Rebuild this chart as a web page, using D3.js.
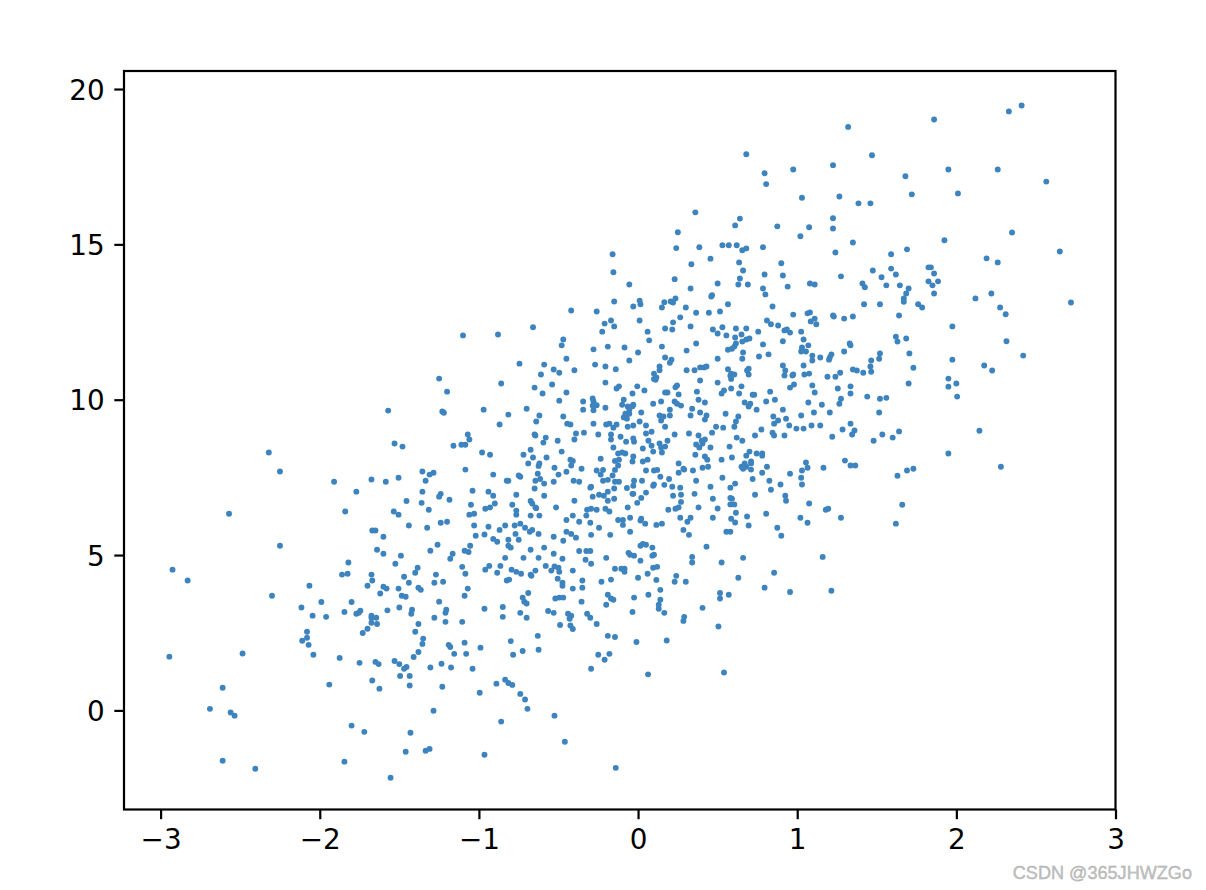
<!DOCTYPE html>
<html>
<head>
<meta charset="utf-8">
<script src="https://cdn.jsdelivr.net/npm/d3@7"></script>
<style>
html,body{margin:0;padding:0;background:#fff;}
svg{display:block;}
</style>
</head>
<body>
<svg id="chart" width="1206" height="890"></svg>
<script>
const xTicks = [-3,-2,-1,0,1,2,3];
const yTicks = [0,5,10,15,20];
const xDomain = [-3.23,3.0];
const yDomain = [-3.19,20.58];
const watermark = "CSDN @365JHWZGo";
const scatterValues = [
[-2.32,8.30],[-2.25,7.69],[-1.91,7.36],[-1.675,7.43],[-1.77,7.04],[-2.57,6.33],[-1.84,6.40],[-1.67,5.79],[-1.65,5.79],[-1.60,5.59],[-2.25,5.30],[-1.64,5.17],[-1.60,5.04],[-1.82,4.76],[-2.925,4.53],[-1.86,4.37],[-1.825,4.40],[-2.83,4.18],[-1.675,4.37],[-1.67,4.18],[-2.065,4.01],[-1.70,4.01],[-1.60,3.98],[-1.62,3.76],[-2.30,3.69],[-1.99,3.49],[-1.80,3.49],
[-2.115,3.31],[-2.045,3.05],[-1.96,3.01],[-1.845,3.17],[-1.77,3.11],[-1.755,3.14],[-1.745,3.21],[-1.675,3.05],[-1.675,2.98],[-1.645,2.98],[-1.675,2.82],[-1.64,2.78],[-1.70,2.63],[-1.73,2.49],[-2.08,2.53],[-2.08,2.34],[-2.11,2.24],[-2.07,2.11],[-2.04,1.79],[-1.875,1.69],[-1.75,1.53],[-1.65,1.56],[-1.63,1.49],[-2.945,1.73],[-2.485,1.83],[-2.61,0.73],[-1.94,0.83],[-1.67,0.96],[-1.625,0.70],[-2.69,0.05],[-2.56,-0.07],[-2.535,-0.17],[-1.80,-0.49],[-1.72,-0.69],[-2.61,-1.62],[-2.405,-1.88],[-1.845,-1.65],
[-1.10,12.07],[-0.88,12.10],[-0.66,12.33],[-0.47,11.94],[-0.48,11.75],[-0.745,11.16],[-0.59,11.13],[-0.53,10.97],[-0.495,10.87],[-0.61,10.81],[-1.25,10.68],[-0.86,10.52],[-0.54,10.49],[-0.65,10.39],[-0.60,10.20],[-1.20,10.26],[-0.495,9.97],[-1.57,9.65],[-1.23,9.62],[-1.22,9.58],[-0.97,9.68],[-0.70,9.71],[-0.815,9.52],[-0.62,9.49],[-0.47,9.46],[-0.64,9.30],[-0.87,9.20],[-0.65,8.88],[-0.645,8.85],[-0.58,8.78],[-0.505,8.68],[-0.595,8.62],[-1.07,8.88],[-1.06,8.72],[-1.16,8.52],[-1.11,8.55],[-1.085,8.55],[-1.53,8.59],[-1.48,8.49],[-0.48,8.33],[-0.675,8.39],[-0.98,8.30],[-0.93,8.23],[-0.72,8.23],[-0.66,8.14],[-0.575,8.14],[-0.69,7.95],[-0.62,7.95],[-0.625,7.87],[-0.525,7.81],[-1.085,7.75],
[-1.355,7.69],[-1.285,7.65],[-1.31,7.59],[-0.91,7.59],[-0.75,7.56],[-0.74,7.52],[-0.63,7.62],[-0.615,7.45],[-0.645,7.39],[-0.59,7.30],[-0.50,7.59],[-0.53,7.36],[-1.585,7.36],[-1.505,7.49],[-1.335,7.39],[-0.825,7.39],[-0.815,7.39],[-0.65,7.14],[-1.355,7.04],[-1.04,7.07],[-0.94,7.04],[-0.91,6.91],[-0.765,6.94],[-0.59,6.91],[-1.24,6.97],[-1.25,6.88],[-1.185,6.78],[-1.455,6.74],[-1.36,6.68],[-1.05,6.62],[-0.90,6.66],[-0.93,6.53],[-0.96,6.49],[-0.79,6.62],[-0.675,6.74],[-0.665,6.66],[-0.645,6.53],[-0.64,6.51],[-0.515,6.53],[-1.315,6.46],[-1.535,6.40],[-1.505,6.30],[-1.06,6.30],[-1.03,6.33],[-0.765,6.43],[-0.765,6.30],[-0.675,6.27],[-0.62,6.27],[-1.44,5.95],[-1.325,5.88],[-1.24,6.04],[-1.20,6.07],[-1.03,5.95],[-0.94,5.91],[-0.835,5.95],[-0.775,5.95],[-0.74,6.01],[-0.71,5.88],[-0.68,5.75],[-0.665,5.81],[-0.87,5.81],[-0.77,5.68],[-0.625,5.68],[-1.02,5.62],[-0.965,5.66],[-0.53,5.59],[-0.91,5.52],[-0.885,5.43],[-0.815,5.49],[-0.75,5.49],[-0.47,5.46],[-1.26,5.33],[-1.055,5.30],[-0.815,5.30],[-0.80,5.24],[-1.305,5.14],[-1.09,5.14],[-1.065,5.10],[-0.675,5.17],[-0.59,5.24],[-0.53,5.04],[-1.49,4.98],[-1.165,5.04],[-1.18,4.88],[-0.835,4.91],[-0.72,4.91],[-0.625,4.91],[-0.475,4.88],[-1.525,4.72],[-1.105,4.62],[-0.935,4.65],[-0.96,4.53],[-0.865,4.65],[-0.795,4.53],[-0.765,4.46],[-0.735,4.40],[-0.885,4.43],[-0.645,4.50],[-0.58,4.65],[-0.545,4.50],[-0.525,4.63],[-0.50,4.59],[-0.495,4.46],[-0.675,4.37],[-0.67,4.33],[-1.385,4.59],[-1.40,4.43],[-1.47,4.30],[-1.27,4.37],[-1.085,4.40],[-1.44,4.11],[-1.28,4.11],[-1.225,4.14],[-0.505,4.24],[-0.825,4.18],[-0.81,4.21],[-0.475,4.11],[-0.475,4.01],[-1.58,3.92],[-1.505,3.92],[-1.38,3.95],[-1.365,3.88],[-1.07,3.92],[-0.69,3.78],[-1.09,3.69],[-1.485,3.69],[-1.46,3.66],[-0.725,3.63],[-0.715,3.50],[-0.70,3.44],[-0.52,3.60],[-0.495,3.63],[-0.47,3.63],[-1.25,3.50],[-1.575,3.22],[-1.50,3.31],[-1.42,3.24],[-1.425,3.11],[-1.205,3.24],[-1.21,3.14],[-0.965,3.27],[-0.85,3.33],[-0.85,3.01],[-0.74,3.14],[-0.70,2.98],[-0.565,3.20],[-0.53,3.14],[-1.28,2.98],[-1.38,2.78],[-1.21,2.85],[-1.105,2.85],[-0.49,2.75],[-1.40,2.53],[-1.35,2.31],[-0.63,2.40],[-0.80,2.23],
[-1.355,2.14],[-1.19,2.11],[-1.18,2.04],[-1.09,2.18],[-0.99,2.02],[-1.38,1.88],[-1.41,1.72],[-1.155,1.82],[-1.08,1.82],[-0.785,1.79],[-0.725,1.91],[-0.625,1.95],[-1.53,1.59],[-1.50,1.49],[-1.47,1.34],[-1.455,1.40],[-1.305,1.38],[-1.235,1.50],[-1.175,1.38],[-1.04,1.34],[-1.495,1.11],[-1.435,1.11],[-1.435,0.80],[-1.23,0.76],[-0.89,0.86],[-0.835,0.99],[-0.815,0.88],[-0.79,0.82],[-0.995,0.57],[-0.74,0.53],[-0.71,0.35],[-0.695,0.05],[-1.285,-0.01],[-0.525,-0.17],[-0.86,-0.36],[-1.43,-0.72],[-0.46,-1.01],[-1.46,-1.33],[-1.335,-1.30],[-1.31,-1.24],[-0.965,-1.43],[-0.14,-1.85],[-1.555,-2.17],[-0.295,1.34],[-0.25,1.79],[-0.21,1.63],[-0.18,1.82],[-0.01,2.20],[0.063,1.16],[0.54,1.22],
[0.36,16.03],[0.64,15.83],[0.61,15.61],[0.25,15.39],[0.24,14.88],[0.385,14.91],[0.53,14.97],[0.57,14.97],[0.62,14.97],[0.655,14.81],[-0.16,14.68],[0.455,14.54],[0.335,14.36],[0.635,14.42],[-0.155,14.10],[0.66,14.16],[0.23,13.88],[0.64,13.90],[-0.055,13.71],[0.50,13.74],[0.63,13.71],[0.33,13.58],[0.46,13.32],[0.465,13.36],[-0.15,13.16],[0.01,13.19],[0.015,13.07],[-0.03,13.00],[0.165,13.14],[0.205,13.16],[0.22,13.13],[0.235,13.26],[0.15,12.97],[0.30,12.97],[0.565,13.07],[-0.42,12.87],[-0.26,12.84],[0.365,12.80],[0.445,12.80],[0.515,12.84],[0.265,12.65],[-0.17,12.55],[0.01,12.55],[-0.21,12.45],[0.22,12.49],[-0.15,12.36],[0.17,12.29],[0.215,12.26],[0.33,12.36],[0.47,12.26],[0.53,12.33],[0.615,12.29],[-0.225,12.19],[0.06,12.19],[0.50,12.13],[0.555,12.07],[0.65,12.10],[0.61,12.00],[0.07,11.91],[0.365,11.81],[0.615,11.81],[0.655,11.87],[0.15,11.71],[-0.19,11.71],[-0.085,11.68],[-0.28,11.62],[0.305,11.58],[0.565,11.61],[0.59,11.64],[0.605,11.71],[0.00,11.52],[0.66,11.52],[0.17,11.36],[0.21,11.29],[0.20,11.19],[-0.45,11.32],[-0.055,11.26],[0.50,11.32],[0.655,11.32],[-0.27,11.13],[-0.205,11.07],[-0.14,10.98],[0.135,11.07],[0.135,10.95],[-0.40,10.95],[0.305,10.95],[0.355,10.95],[0.39,11.04],[0.415,11.04],[0.43,11.07],[0.565,10.98],
[0.10,10.84],[0.10,10.67],[0.11,10.64],[0.115,10.72],[0.39,10.62],[-0.205,10.55],[0.50,10.55],[0.585,10.84],[0.605,10.81],[0.58,10.77],[0.585,10.67],[-0.45,10.23],[-0.135,10.36],[-0.12,10.43],[-0.005,10.43],[0.04,10.30],[-0.035,10.20],[0.17,10.23],[0.185,10.23],[0.235,10.40],[0.245,10.46],[0.255,10.17],[0.37,10.26],[0.525,10.20],[0.54,10.30],[0.585,10.36],[0.65,10.43],[0.635,10.20],[0.38,10.00],[0.42,9.91],[-0.345,9.94],[-0.285,10.04],[-0.28,9.94],[-0.26,9.82],[-0.285,9.81],[-0.28,9.66],[-0.345,9.68],[-0.205,9.74],[-0.09,10.00],[-0.10,9.84],[-0.03,9.84],[-0.035,9.79],[-0.065,9.78],[-0.055,9.68],[0.095,9.87],[0.145,9.94],[0.23,9.94],[0.245,9.87],[0.27,9.81],[0.20,9.68],[0.34,9.71],[0.02,9.59],[-0.08,9.55],[-0.055,9.55],[-0.09,9.43],[-0.07,9.39],[0.135,9.49],[0.16,9.46],[0.145,9.33],[0.20,9.49],[0.33,9.49],[0.39,9.59],[0.43,9.49],[0.42,9.36],[0.55,9.55],[0.63,9.46],[0.615,9.30],[0.01,9.30],[-0.445,9.23],[-0.425,9.20],[-0.28,9.23],[-0.20,9.20],[-0.18,9.23],[-0.135,9.20],[-0.155,9.10],[-0.065,9.13],[-0.03,9.17],[0.05,9.17],[0.17,9.13],[0.49,9.13],[0.535,9.10],[0.605,9.13],[0.465,8.94],[0.085,8.97],[0.05,8.91],[-0.39,8.91],[-0.34,8.94],[-0.25,8.88],[-0.17,8.88],[-0.17,8.72],[-0.11,8.81],[0.23,8.88],[0.32,8.91],[0.38,8.85],[0.62,8.78],[0.655,8.68],[-0.40,8.72],[-0.075,8.65],[-0.03,8.75],[-0.025,8.65],[0.065,8.68],[0.185,8.68],[0.40,8.68],[0.42,8.72],[0.085,8.52],[0.135,8.59],[0.17,8.49],[0.145,8.46],[0.365,8.56],[0.385,8.46],[0.405,8.59],[0.455,8.46],[0.575,8.49],[-0.155,8.46],[0.03,8.43],[0.095,8.33],[0.15,8.30],[-0.125,8.27],[-0.10,8.30],[-0.08,8.27],[-0.03,8.17],[0.36,8.23],[0.42,8.17],[0.435,8.07],[0.59,8.14],[0.525,8.07],[-0.235,8.10],[-0.425,8.07],[-0.41,8.03],[-0.145,8.03],[-0.12,8.07],[-0.035,8.01],[0.03,8.01],[0.06,8.07],[0.255,7.95],[-0.42,7.88],[-0.125,7.88],[0.405,7.81],[0.44,7.84],[0.65,7.84],[0.66,7.78],[-0.355,7.78],[-0.145,7.74],[-0.26,7.72],[-0.22,7.74],[0.05,7.72],[0.10,7.72],[0.12,7.74],[0.285,7.78],[0.29,7.75],[0.345,7.72],[0.255,7.65],[-0.45,7.68],[-0.235,7.59],[-0.16,7.56],[0.14,7.52],[0.195,7.45],[0.53,7.49],[-0.405,7.39],[-0.37,7.36],[-0.22,7.39],[-0.19,7.42],[-0.145,7.36],[-0.12,7.36],[-0.025,7.39],[0.025,7.39],[0.365,7.39],[-0.03,7.23],[-0.07,7.16],[0.10,7.27],[0.095,7.23],[0.165,7.26],[0.215,7.20],[0.265,7.17],[0.455,7.20],[0.61,7.30],[0.58,7.17],[-0.295,7.20],[-0.30,7.17],[-0.15,7.14],[-0.19,7.04],[0.05,7.01],[-0.035,6.97],[-0.03,6.97],[0.27,6.94],[0.355,6.97],[0.22,6.91],[-0.245,6.94],[-0.215,6.91],[-0.285,6.88],[-0.15,6.81],[-0.19,6.75],[0.02,6.84],[0.47,6.81],[0.58,6.84],[0.59,6.81],[-0.40,6.75],[0.27,6.71],[-0.005,6.68],[0.58,6.63],[0.605,6.63],
[-0.32,6.46],[-0.295,6.49],[-0.26,6.46],[-0.205,6.49],[-0.18,6.40],[-0.065,6.53],[0.19,6.46],[0.235,6.49],[0.255,6.53],[0.38,6.53],[0.50,6.50],[0.615,6.36],[-0.325,6.27],[-0.41,6.27],[-0.45,6.13],[-0.37,6.07],[-0.30,6.04],[-0.125,6.13],[-0.095,6.13],[-0.095,5.97],[-0.05,6.20],[0.02,6.17],[0.015,6.11],[0.045,6.01],[0.115,5.97],[0.15,6.01],[0.265,6.20],[0.33,6.20],[0.31,6.07],[0.47,6.20],[0.585,6.17],[0.61,6.05],[-0.245,5.88],[0.285,5.81],[-0.45,5.75],[-0.42,5.68],[-0.05,5.75],[0.32,5.65],[0.555,5.75],[0.58,5.75],[-0.295,5.65],[-0.175,5.65],[-0.39,5.56],[0.03,5.36],[0.05,5.33],[0.015,5.30],[0.09,5.24],[0.43,5.27],[-0.37,5.13],[-0.325,5.13],[-0.30,5.13],[-0.06,5.07],[-0.05,5.01],[-0.025,4.98],[0.09,4.98],[0.10,5.01],[0.34,4.94],[-0.20,4.91],[-0.33,4.85],[0.015,4.82],[0.34,4.76],[0.525,4.76],[-0.295,4.72],[0.66,4.91],[0.095,4.59],[0.12,4.62],[-0.145,4.56],[-0.105,4.56],[-0.085,4.56],[-0.085,4.46],[-0.41,4.50],[0.06,4.40],[0.00,4.27],[0.24,4.33],[0.63,4.27],[0.115,4.20],[-0.35,4.18],[-0.23,4.14],[-0.17,4.21],[0.23,4.14],[0.30,4.14],[-0.35,3.95],[-0.41,3.92],[0.14,3.88],[0.515,3.78],[0.57,3.72],[0.515,3.60],[-0.19,3.72],[-0.17,3.60],[-0.155,3.56],[-0.025,3.63],[0.065,3.72],[0.14,3.56],[-0.355,3.50],[-0.20,3.40],[0.13,3.40],[0.13,3.27],[0.405,3.30],[-0.035,3.17],[0.165,3.14],[-0.44,3.11],[-0.42,3.05],[-0.43,2.95],[-0.32,3.11],[-0.30,2.98],[0.29,3.01],[0.285,2.88],[-0.26,2.78],[-0.425,2.73],[-0.41,2.62],[0.505,2.70],[-0.19,2.40],[-0.145,2.36],[0.18,2.25],
[1.47,17.87],[1.225,17.55],[0.68,17.90],[0.975,17.41],[0.795,17.29],[0.805,16.94],[1.68,17.19],[1.72,16.61],[1.03,16.50],[1.265,16.54],[1.385,16.32],[1.46,16.32],[1.225,15.84],[0.875,15.58],[1.075,15.55],[1.225,15.51],[1.02,15.26],[1.35,15.06],[0.68,14.87],[0.785,14.91],[1.24,14.74],[1.69,14.84],[1.59,14.68],[0.90,14.39],[1.475,14.16],[1.59,14.22],[1.62,14.03],[1.53,13.94],[1.275,13.97],[0.795,14.03],[0.91,14.00],[0.69,13.71],[0.785,13.58],[0.80,13.39],[0.94,13.64],[1.08,13.74],[1.11,13.71],[1.41,13.74],[1.425,13.62],[1.56,13.68],[1.645,13.68],[1.70,13.58],[1.685,13.42],[1.67,13.26],
[0.845,13.00],[1.42,13.07],[1.52,13.07],[1.67,13.15],[1.76,13.07],[1.785,12.97],[0.975,12.74],[1.065,12.78],[1.08,12.81],[1.11,12.61],[1.085,12.52],[1.12,12.43],[1.225,12.71],[1.23,12.68],[1.295,12.61],[1.35,12.68],[1.64,12.71],[0.81,12.55],[0.835,12.43],[0.88,12.39],[0.68,12.29],[0.755,12.19],[0.92,12.23],[0.935,12.26],[0.955,12.16],[1.025,12.19],[1.04,11.94],[0.91,11.88],[0.68,11.94],[0.70,11.97],[0.785,11.78],[1.07,11.75],[1.03,11.68],[1.025,11.55],[1.055,11.55],[1.33,11.81],[1.335,11.75],[1.295,11.55],[1.62,12.03],[1.63,11.87],[1.685,11.97],[1.705,11.49],[1.52,11.49],[1.515,11.32],[0.82,11.46],[0.76,11.39],[1.095,11.42],[1.095,11.26],[1.145,11.36],[1.215,11.46],[1.205,11.36],[1.20,11.29],[1.465,11.26],[0.91,11.10],[1.04,11.10],[1.46,11.07],[1.73,11.03],[0.695,11.00],[0.685,10.94],[0.695,10.81],[0.925,10.94],[0.92,10.78],[0.975,10.81],[0.97,10.78],[1.045,10.81],[1.075,10.84],[1.35,10.97],[1.375,10.94],[1.415,10.87],[1.465,10.90],[1.27,10.87],[1.19,10.74],[1.24,10.74],[1.70,10.52],[0.98,10.49],[0.955,10.39],[1.095,10.46],[1.335,10.43],[1.255,10.36],[0.83,10.26],[1.11,10.23],[1.335,10.20],[0.72,10.16],[0.73,10.16],[1.44,10.10],[1.52,10.03],[1.56,10.06],[1.275,10.03],[0.86,10.00],[0.805,9.94],[1.07,9.91],[1.265,9.87],[1.155,9.84],[0.705,9.87],[0.695,9.78],[0.67,9.91],[0.745,9.68],[0.91,9.68],[1.105,9.59],[1.205,9.59],[1.515,9.59],[0.85,9.46],[1.025,9.49],[0.93,9.39],[0.88,9.33],[0.855,9.23],[0.95,9.17],[0.995,9.07],[1.04,9.07],[1.09,9.17],[1.145,9.17],[1.335,9.23],[1.36,9.01],[1.345,8.88],[1.285,9.04],[0.775,9.04],[0.735,8.85],[0.845,8.94],[0.855,8.85],[0.92,8.85],[1.22,8.81],[1.535,8.88],[1.64,8.98],[1.60,8.78],[1.48,8.68],[0.70,8.33],[0.68,8.20],[0.745,8.27],[0.78,8.27],[0.78,8.20],[0.71,8.01],[0.71,7.95],[0.67,7.95],[0.68,7.84],[1.055,7.98],[1.30,8.04],[1.335,7.88],[1.365,7.88],[0.81,7.84],[1.065,7.81],[1.165,7.81],[1.03,7.72],[1.73,7.78],[1.69,7.72],[0.71,7.75],
[0.78,7.65],[0.955,7.62],[1.025,7.49],[1.03,7.27],[0.72,7.45],[0.825,7.39],[0.895,7.27],[0.835,7.10],[0.735,6.94],[0.925,6.91],[0.93,6.75],[1.075,6.66],[1.18,6.46],[1.195,6.49],[0.805,6.33],[0.685,6.24],[0.695,5.95],[1.02,6.20],[1.065,6.04],[1.275,6.20],[0.875,5.88],[0.90,5.62],[1.63,7.55],[1.66,6.62],[1.62,6.01],[1.16,4.94],[0.855,4.43],[0.795,3.95],[0.955,3.81],[1.215,3.85],
[2.41,19.47],[2.33,19.28],[1.86,19.02],[1.95,17.41],[2.26,17.41],[2.565,17.02],[2.01,16.64],[2.35,15.38],[1.925,15.13],[2.65,14.77],[2.19,14.55],[2.26,14.42],[1.825,14.26],[1.84,14.26],[1.86,14.06],[1.825,13.81],[1.885,13.81],[1.85,13.68],[1.86,13.42],[2.22,13.42],[2.12,13.26],[2.275,12.97],[2.31,12.75],[2.72,13.13],[1.975,12.36],[2.315,11.88],[2.42,11.42],[1.975,11.29],[2.175,11.10],[2.225,10.94],[1.95,10.68],[2.00,10.52],[1.95,10.42],[2.005,10.10],[2.145,9.00],[1.95,8.27],[2.28,7.84],
[1.32,18.78]
];

const svg = d3.select("#chart");
const plotLeft = 124, plotRight = 1115.5, plotTop = 71, plotBottom = 809.5;
const x = d3.scaleLinear().domain(xDomain).range([plotLeft,plotRight]);
const y = d3.scaleLinear().domain(yDomain).range([plotBottom,plotTop]);
const fmt = d => String(d).replace("-", "\u2212");

svg.append("g").selectAll("circle").data(scatterValues).join("circle")
  .attr("cx", d => x(d[0])).attr("cy", d => y(d[1])).attr("r", 2.95)
  .attr("fill", "#3d84bf");

const gx = svg.append("g").attr("transform", `translate(0,${plotBottom})`)
  .call(d3.axisBottom(x).tickValues(xTicks).tickFormat(fmt).tickSize(9.7).tickPadding(10.5));
const gy = svg.append("g").attr("transform", `translate(${plotLeft},0)`)
  .call(d3.axisLeft(y).tickValues(yTicks).tickFormat(fmt).tickSize(9.7).tickPadding(9.7));
[gx,gy].forEach(g => {
  g.select(".domain").remove();
  g.selectAll("line").attr("stroke","#000").attr("stroke-width",2.2);
  g.selectAll("text").attr("fill","#000").attr("font-family","'DejaVu Sans'").attr("font-size",27.8);
});
gy.selectAll("text").attr("dy","0.36em");
svg.append("rect").attr("x",plotLeft).attr("y",plotTop).attr("width",plotRight-plotLeft).attr("height",plotBottom-plotTop)
  .attr("fill","none").attr("stroke","#000").attr("stroke-width",2.2);

svg.append("text").attr("x",1192).attr("y",879).attr("text-anchor","end")
  .attr("font-family","'Liberation Sans'").attr("font-size",18.1)
  .attr("fill","#c2c2c2").attr("stroke","#a8a8a8").attr("stroke-width",0.35).text(watermark);
</script>
</body>
</html>
